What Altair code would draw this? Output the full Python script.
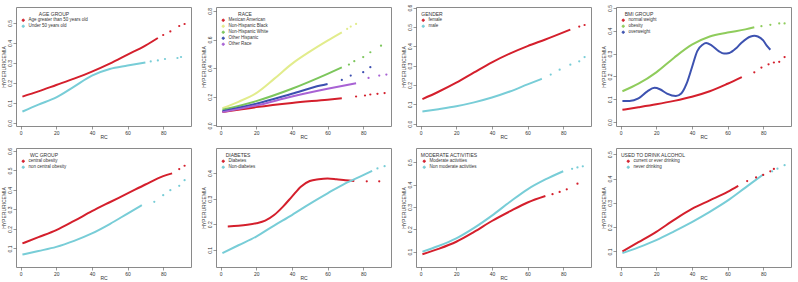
import altair as alt
import pandas as pd

RED = "#d41f2c"
CYAN = "#78cdd7"

X_TICKS = [0, 20, 40, 60, 80]

# ---- Panel 1: AGE GROUP
AGE_LABELS = ["Age greater than 50 years old", "Under 50 years old"]
AGE_RED_X = [1, 10, 20, 30, 40, 50, 60, 70, 77]
AGE_RED_Y = [0.132, 0.158, 0.19, 0.222, 0.257, 0.297, 0.342, 0.387, 0.425]
AGE_RED_TX = [80, 84, 89, 92]
AGE_RED_TY = [0.44, 0.458, 0.485, 0.495]
AGE_CYAN_X = [1, 10, 20, 30, 40, 50, 60, 70]
AGE_CYAN_Y = [0.057, 0.092, 0.128, 0.182, 0.237, 0.27, 0.287, 0.303]
AGE_CYAN_TX = [73, 77, 81, 88, 90]
AGE_CYAN_TY = [0.308, 0.313, 0.32, 0.325, 0.33]

# ---- Panel 2: RACE
RACE_LABELS = ["Mexican American", "Non-Hispanic Black", "Non-Hispanic White", "Other Hispanic", "Other Race"]
RACE_COLORS = [RED, "#e2ec8c", "#7cc65c", "#3c4fb0", "#a862d4"]
RACE_MEX_X = [1, 20, 40, 60, 68]
RACE_MEX_Y = [0.093, 0.128, 0.157, 0.18, 0.19]
RACE_MEX_TX = [76, 81, 84, 88, 92]
RACE_MEX_TY = [0.202, 0.209, 0.216, 0.221, 0.226]
RACE_BLK_X = [1, 10, 20, 30, 40, 50, 60, 68]
RACE_BLK_Y = [0.121, 0.165, 0.226, 0.325, 0.43, 0.515, 0.592, 0.65]
RACE_BLK_TX = [71, 73, 76]
RACE_BLK_TY = [0.674, 0.69, 0.709]
RACE_WHT_X = [1, 20, 40, 60, 68]
RACE_WHT_Y = [0.109, 0.17, 0.256, 0.36, 0.405]
RACE_WHT_TX = [72, 75, 80, 84, 90]
RACE_WHT_TY = [0.425, 0.449, 0.477, 0.511, 0.557]
RACE_HIS_X = [1, 20, 40, 56, 60]
RACE_HIS_Y = [0.1, 0.151, 0.221, 0.279, 0.29]
RACE_HIS_TX = [68, 73, 80, 84]
RACE_HIS_TY = [0.318, 0.348, 0.372, 0.407]
RACE_OTH_X = [1, 20, 40, 60, 76]
RACE_OTH_Y = [0.093, 0.139, 0.202, 0.256, 0.295]
RACE_OTH_TX = [83, 89, 93]
RACE_OTH_TY = [0.332, 0.348, 0.355]

# ---- Panel 3: GENDER
GEN_LABELS = ["female", "male"]
GEN_RED_X = [1, 10, 20, 30, 40, 50, 60, 70, 84]
GEN_RED_Y = [0.127, 0.165, 0.212, 0.265, 0.317, 0.362, 0.401, 0.435, 0.486]
GEN_RED_TX = [89, 92]
GEN_RED_TY = [0.502, 0.51]
GEN_CYAN_X = [1, 10, 20, 30, 40, 50, 60, 68]
GEN_CYAN_Y = [0.063, 0.075, 0.09, 0.11, 0.135, 0.166, 0.203, 0.232]
GEN_CYAN_TX = [73, 78, 84, 89, 92]
GEN_CYAN_TY = [0.254, 0.279, 0.305, 0.322, 0.344]

# ---- Panel 4: BMI GROUP
BMI_LABELS = ["normal weight", "obesity", "overweight"]
BMI_COLORS = [RED, "#8fcc5c", "#3d52b0"]
BMI_NOR_X = [1, 10, 20, 30, 40, 50, 60, 68]
BMI_NOR_Y = [0.054, 0.065, 0.078, 0.093, 0.111, 0.135, 0.168, 0.197]
BMI_NOR_TX = [75, 79, 83, 86, 89, 92]
BMI_NOR_TY = [0.218, 0.239, 0.253, 0.261, 0.264, 0.285]
BMI_OBE_X = [1, 10, 20, 30, 40, 50, 60, 70, 75]
BMI_OBE_Y = [0.135, 0.168, 0.218, 0.282, 0.339, 0.375, 0.392, 0.406, 0.415]
BMI_OBE_TX = [79, 84, 89, 92]
BMI_OBE_TY = [0.42, 0.426, 0.432, 0.432]
BMI_OVR_X = [1, 5, 10, 15, 19, 22, 26, 31, 34, 37, 40, 43, 46, 48, 51, 55, 58, 61, 65, 68,
             73, 75, 77, 80, 82, 84]
BMI_OVR_Y = [0.093, 0.093, 0.104, 0.135, 0.15, 0.144, 0.125, 0.114, 0.125, 0.168, 0.239, 0.311,
             0.339, 0.346, 0.336, 0.311, 0.3, 0.303, 0.325, 0.349,
             0.375, 0.378, 0.375, 0.358, 0.335, 0.317]
BMI_OVR_TX = []
BMI_OVR_TY = []

# ---- Panel 5: WC GROUP
WC_LABELS = ["central obesity", "non central obesity"]
WC_RED_X = [1, 10, 20, 30, 40, 50, 60, 70, 80, 85]
WC_RED_Y = [0.126, 0.158, 0.194, 0.241, 0.291, 0.337, 0.382, 0.428, 0.471, 0.485]
WC_RED_TX = [89, 92]
WC_RED_TY = [0.507, 0.524]
WC_CYAN_X = [1, 10, 20, 30, 40, 50, 60, 68]
WC_CYAN_Y = [0.069, 0.087, 0.108, 0.139, 0.177, 0.225, 0.279, 0.322]
WC_CYAN_TX = [75, 80, 84, 89, 92]
WC_CYAN_TY = [0.339, 0.373, 0.399, 0.421, 0.45]

# ---- Panel 6: DIABETES
DIA_LABELS = ["Diabetes", "Non-diabetes"]
DIA_RED_X = [4, 10, 15, 20, 25, 30, 35, 40, 45, 50, 55, 60, 65, 70, 75]
DIA_RED_Y = [0.191, 0.194, 0.198, 0.204, 0.214, 0.236, 0.269, 0.308, 0.347, 0.369, 0.376, 0.379,
             0.376, 0.372, 0.369]
DIA_RED_TX = [82, 89]
DIA_RED_TY = [0.368, 0.368]
DIA_CYAN_X = [1, 10, 20, 30, 40, 50, 60, 70, 80, 85]
DIA_CYAN_Y = [0.087, 0.118, 0.152, 0.195, 0.236, 0.28, 0.321, 0.36, 0.392, 0.409]
DIA_CYAN_TX = [88, 92]
DIA_CYAN_TY = [0.418, 0.427]

# ---- Panel 7: MODERATE ACTIVITIES
MOD_LABELS = ["Moderate activities", "Non moderate activities"]
MOD_RED_X = [1, 10, 20, 30, 40, 50, 60, 70]
MOD_RED_Y = [0.088, 0.112, 0.144, 0.188, 0.237, 0.28, 0.32, 0.349]
MOD_RED_TX = [74, 78, 82, 88]
MOD_RED_TY = [0.357, 0.367, 0.379, 0.404]
MOD_CYAN_X = [1, 10, 20, 30, 40, 50, 60, 70, 80]
MOD_CYAN_Y = [0.1, 0.125, 0.159, 0.206, 0.261, 0.322, 0.379, 0.423, 0.46]
MOD_CYAN_TX = [85, 88, 91]
MOD_CYAN_TY = [0.471, 0.477, 0.482]

# ---- Panel 8: USED TO DRINK ALCOHOL
ALC_LABELS = ["current or ever drinking", "never drinking"]
ALC_RED_X = [1, 10, 20, 30, 40, 50, 60, 66]
ALC_RED_Y = [0.1, 0.138, 0.181, 0.23, 0.275, 0.31, 0.345, 0.37]
ALC_RED_TX = [71, 76, 80, 84, 86]
ALC_RED_TY = [0.39, 0.405, 0.415, 0.43, 0.44]
ALC_CYAN_X = [1, 10, 20, 30, 40, 50, 60, 70, 80]
ALC_CYAN_Y = [0.093, 0.117, 0.147, 0.183, 0.221, 0.263, 0.309, 0.363, 0.417]
ALC_CYAN_TX = [85, 88, 92]
ALC_CYAN_TY = [0.43, 0.441, 0.455]

FONT = "Liberation Sans"
X_DOMAIN = [-2.6, 95.6]
W, H = 175, 119


def panel(title, labels, colors, curves, tails, ydom, yticks):
    crows, trows = [], []
    for lab, (xs, ys) in zip(labels, curves):
        crows += [{"RC": a, "P": b, "g": lab} for a, b in zip(xs, ys)]
    for lab, (xs, ys) in zip(labels, tails):
        trows += [{"RC": a, "P": b, "g": lab} for a, b in zip(xs, ys)]
    legend = alt.Legend(title=title, orient="top-left", symbolType="circle",
                        symbolSize=5, rowPadding=-2, labelFontSize=4.5, titleFontSize=5,
                        labelOffset=3, titleAnchor="middle",
                        offset=5, padding=0)
    color = alt.Color("g:N", scale=alt.Scale(domain=labels, range=colors), legend=legend)
    x = alt.X("RC:Q", scale=alt.Scale(domain=X_DOMAIN, nice=False, zero=False),
              axis=alt.Axis(values=X_TICKS, title="RC"))
    y = alt.Y("P:Q", scale=alt.Scale(domain=ydom, nice=False, zero=False),
              axis=alt.Axis(values=yticks, format=".1f", title="HYPERURICEMIA"))
    line = alt.Chart(pd.DataFrame(crows)).mark_line(
        strokeWidth=2.0, interpolate="monotone", clip=True
    ).encode(x=x, y=y, color=color)
    tdf = pd.DataFrame(trows) if trows else pd.DataFrame({"RC": [], "P": [], "g": []})
    pts = alt.Chart(tdf).mark_point(
        filled=True, size=5, opacity=1, clip=True
    ).encode(x=x, y=y, color=color)
    return alt.layer(line, pts).properties(width=W, height=H)


p1 = panel("AGE GROUP", AGE_LABELS, [RED, CYAN],
           [(AGE_RED_X, AGE_RED_Y), (AGE_CYAN_X, AGE_CYAN_Y)],
           [(AGE_RED_TX, AGE_RED_TY), (AGE_CYAN_TX, AGE_CYAN_TY)],
           [-0.015, 0.58], [0, 0.1, 0.2, 0.3, 0.4, 0.5])
p2 = panel("RACE", RACE_LABELS, RACE_COLORS,
           [(RACE_MEX_X, RACE_MEX_Y), (RACE_BLK_X, RACE_BLK_Y), (RACE_WHT_X, RACE_WHT_Y),
            (RACE_HIS_X, RACE_HIS_Y), (RACE_OTH_X, RACE_OTH_Y)],
           [(RACE_MEX_TX, RACE_MEX_TY), (RACE_BLK_TX, RACE_BLK_TY), (RACE_WHT_TX, RACE_WHT_TY),
            (RACE_HIS_TX, RACE_HIS_TY), (RACE_OTH_TX, RACE_OTH_TY)],
           [-0.004, 0.827], [0, 0.2, 0.4, 0.6, 0.8])
p3 = panel("GENDER", GEN_LABELS, [RED, CYAN],
           [(GEN_RED_X, GEN_RED_Y), (GEN_CYAN_X, GEN_CYAN_Y)],
           [(GEN_RED_TX, GEN_RED_TY), (GEN_CYAN_TX, GEN_CYAN_TY)],
           [-0.012, 0.603], [0, 0.1, 0.2, 0.3, 0.4, 0.5, 0.6])
p4 = panel("BMI GROUP", BMI_LABELS, BMI_COLORS,
           [(BMI_NOR_X, BMI_NOR_Y), (BMI_OBE_X, BMI_OBE_Y), (BMI_OVR_X, BMI_OVR_Y)],
           [(BMI_NOR_TX, BMI_NOR_TY), (BMI_OBE_TX, BMI_OBE_TY), (BMI_OVR_TX, BMI_OVR_TY)],
           [-0.017, 0.504], [0, 0.1, 0.2, 0.3, 0.4, 0.5])
p5 = panel("WC GROUP", WC_LABELS, [RED, CYAN],
           [(WC_RED_X, WC_RED_Y), (WC_CYAN_X, WC_CYAN_Y)],
           [(WC_RED_TX, WC_RED_TY), (WC_CYAN_TX, WC_CYAN_TY)],
           [0.005, 0.615], [0.1, 0.2, 0.3, 0.4, 0.5, 0.6])
p6 = panel("DIABETES", DIA_LABELS, [RED, CYAN],
           [(DIA_RED_X, DIA_RED_Y), (DIA_CYAN_X, DIA_CYAN_Y)],
           [(DIA_RED_TX, DIA_RED_TY), (DIA_CYAN_TX, DIA_CYAN_TY)],
           [0.033, 0.498], [0.1, 0.2, 0.3, 0.4])
p7 = panel("MODERATE ACTIVITIES", MOD_LABELS, [RED, CYAN],
           [(MOD_RED_X, MOD_RED_Y), (MOD_CYAN_X, MOD_CYAN_Y)],
           [(MOD_RED_TX, MOD_RED_TY), (MOD_CYAN_TX, MOD_CYAN_TY)],
           [0.031, 0.564], [0.1, 0.2, 0.3, 0.4, 0.5])
p8 = panel("USED TO DRINK ALCOHOL", ALC_LABELS, [RED, CYAN],
           [(ALC_RED_X, ALC_RED_Y), (ALC_CYAN_X, ALC_CYAN_Y)],
           [(ALC_RED_TX, ALC_RED_TY), (ALC_CYAN_TX, ALC_CYAN_TY)],
           [0.036, 0.526], [0.1, 0.2, 0.3, 0.4, 0.5])

res = dict(color="independent", x="independent", y="independent")
row1 = alt.hconcat(p1, p2, p3, p4, spacing=8).resolve_scale(**res)
row2 = alt.hconcat(p5, p6, p7, p8, spacing=8).resolve_scale(**res)
chart = alt.vconcat(row1, row2, spacing=6).resolve_scale(**res).properties(
    padding={"left": 0, "top": 3, "right": 0, "bottom": 0}
).configure(
    font=FONT, background="white"
).configure_view(
    stroke="#8a8a8a", strokeWidth=1
).configure_axis(
    domain=False, grid=False, tickColor="#555", tickSize=3, tickWidth=0.6,
    labelFontSize=5, titleFontSize=5, labelFont=FONT, titleFont=FONT,
    labelColor="#333", titleColor="#333", titleFontWeight="normal", labelPadding=1
).configure_axisY(
    labelAngle=270, labelAlign="center", labelBaseline="bottom",
    minExtent=8, maxExtent=8, titlePadding=2
).configure_axisX(
    minExtent=8, maxExtent=8, titlePadding=0
).configure_legend(
    titleFontWeight="normal", titleColor="#333", labelColor="#333",
    symbolStrokeWidth=1, titlePadding=1, labelFont=FONT, titleFont=FONT
)

chart.save("out.html", embed_options={"renderer": "svg", "actions": False})
